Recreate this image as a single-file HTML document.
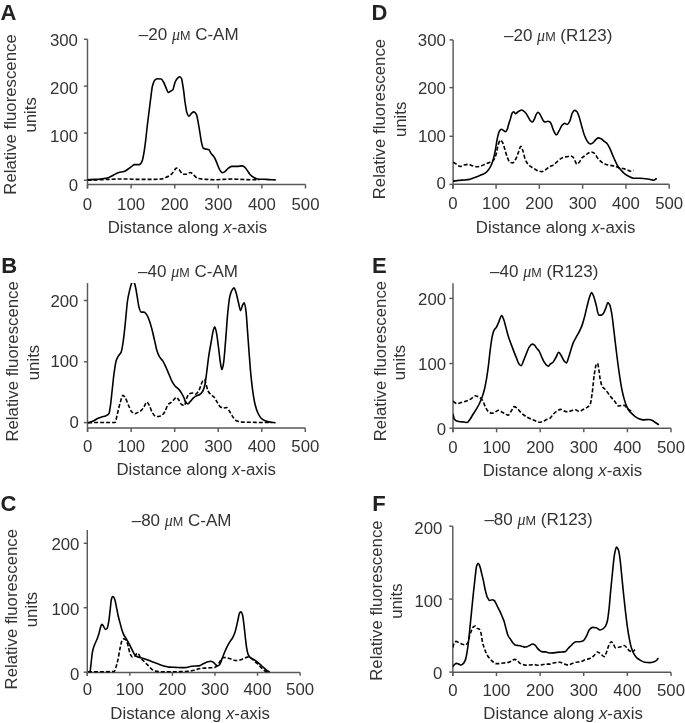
<!DOCTYPE html>
<html><head><meta charset="utf-8"><style>
html,body{margin:0;padding:0;background:#fff;}
svg{display:block;will-change:transform;filter:blur(0.35px)}
.t{font-family:"Liberation Sans",sans-serif;font-size:16.8px;fill:#333}
.L{font-family:"Liberation Sans",sans-serif;font-size:22px;font-weight:bold;fill:#222}
.mu{font-family:"Liberation Serif",serif;font-style:italic;font-size:16px}
.ax{stroke:#585858;stroke-width:1.45;fill:none}
.cs{stroke:#000;stroke-width:1.6;fill:none;stroke-linejoin:round;stroke-linecap:round}
.cd{stroke:#000;stroke-width:1.6;fill:none;stroke-dasharray:4 2}
</style></head><body>
<svg width="685" height="723" viewBox="0 0 685 723">
<g><text x="0.6" y="20.3" class="L">A</text><path class="ax" d="M87.5 39.3V188.5"/><path class="ax" d="M83.9 39.3H87.5"/><path class="ax" d="M83.9 86.1H87.5"/><path class="ax" d="M83.9 133.1H87.5"/><path class="ax" d="M83.9 180.2H87.5"/><text x="77.9" y="46.1" class="t" text-anchor="end">300</text><text x="78.1" y="94.4" class="t" text-anchor="end">200</text><text x="78.1" y="142.4" class="t" text-anchor="end">100</text><text x="78.1" y="190.5" class="t" text-anchor="end">0</text><path class="ax" d="M87.5 184.5H305.5"/><path class="ax" d="M87.5 184.5V188.5"/><text x="87.5" y="209.5" class="t" text-anchor="middle">0</text><path class="ax" d="M131.1 184.5V188.5"/><text x="131.1" y="209.5" class="t" text-anchor="middle">100</text><path class="ax" d="M174.7 184.5V188.5"/><text x="174.7" y="209.5" class="t" text-anchor="middle">200</text><path class="ax" d="M218.3 184.5V188.5"/><text x="218.3" y="209.5" class="t" text-anchor="middle">300</text><path class="ax" d="M261.9 184.5V188.5"/><text x="261.9" y="209.5" class="t" text-anchor="middle">400</text><path class="ax" d="M305.5 184.5V188.5"/><text x="305.5" y="209.5" class="t" text-anchor="middle">500</text><text x="267.2" y="232.9" class="t" text-anchor="end">Distance along <tspan font-style="italic">x</tspan>-axis</text><text transform="translate(16.3 194.7) rotate(-90)" class="t">Relative fluorescence</text><text transform="translate(36.3 114.85) rotate(-90)" class="t" text-anchor="middle">units</text><text x="138.8" y="39.9" class="t" style="font-size:17px">–20 <tspan class="mu">μ</tspan><tspan style="font-size:12.6px">M</tspan> C-AM</text><clipPath id="cpA"><rect x="87.5" y="39.3" width="300" height="200"/></clipPath><path class="cs" clip-path="url(#cpA)" d="M87.6,179.72C90.19,179.61 92.79,179.54 95.38,179.38C97.69,179.24 99.99,178.98 102.3,178.69C104.32,178.43 106.34,178.17 108.36,177.65C110.09,177.2 111.82,175.91 113.55,175.05C115.28,174.19 117.01,172.89 118.74,172.46C120.47,172.03 122.2,172.05 123.93,171.59C125.37,171.21 126.81,169.96 128.25,169C129.4,168.23 130.56,167.21 131.71,166.4C132.58,165.79 133.44,164.67 134.31,164.67C135.17,164.67 136.04,164.67 136.9,164.67C137.77,164.67 138.63,164.67 139.5,164.67C140.36,164.67 141.23,163.05 142.09,161.21C142.67,159.98 143.24,156.59 143.82,153.43C144.4,150.27 144.97,145.85 145.55,141.31C146.13,136.77 146.7,130.62 147.28,125.74C147.86,120.86 148.43,116.51 149.01,111.9C149.59,107.29 150.16,102.37 150.74,98.06C151.32,93.75 151.89,88.03 152.47,85.95C153.34,82.82 154.2,80.57 155.07,79.9C155.93,79.23 156.8,78.69 157.66,78.69C158.81,78.69 159.97,78.81 161.12,79.03C161.99,79.2 162.85,81.02 163.72,82.49C164.58,83.95 165.45,86.74 166.31,88.55C167,90 167.7,92.53 168.39,92.53C169.14,92.53 169.89,91.6 170.64,91.14C171.39,90.68 172.14,90.55 172.89,89.76C173.58,89.03 174.28,84.08 174.97,82.49C175.83,80.51 176.7,78.94 177.56,78.17C178.31,77.5 179.06,76.78 179.81,76.78C180.45,76.78 181.09,77.52 181.73,79.03C181.78,79.16 181.84,79.6 181.89,79.9C182.41,82.86 182.94,85.81 183.46,89.41C184.04,93.38 184.61,99.49 185.19,103.25C185.77,107.01 186.34,111.27 186.92,112.77C187.61,114.57 188.31,116.23 189,116.23C189.75,116.23 190.5,114.27 191.25,113.63C192.11,112.89 192.98,111.9 193.84,111.9C194.71,111.9 195.57,113.02 196.44,114.5C197.02,115.49 197.59,119.32 198.17,122.28C198.75,125.24 199.32,129.2 199.9,132.66C200.48,136.12 201.05,140.73 201.63,143.04C202.21,145.35 202.78,147.88 203.36,148.24C204.22,148.79 205.09,148.88 205.95,149.1C206.82,149.32 207.68,149.31 208.55,149.62C209.41,149.92 210.28,152.26 211.14,153.43C212.29,154.99 213.45,155.85 214.6,157.75C215.47,159.18 216.33,161.79 217.2,163.81C218.06,165.82 218.93,168.54 219.79,169.86C220.66,171.18 221.52,172.8 222.39,172.8C223.25,172.8 224.12,172.13 224.98,171.59C226.13,170.87 227.29,168.9 228.44,168.13C229.59,167.36 230.75,166.4 231.9,166.4C233.63,166.4 235.36,166.4 237.09,166.4C238.82,166.4 240.55,165.88 242.28,165.88C243.15,165.88 244.01,166.61 244.88,167.27C245.74,167.93 246.61,169.52 247.47,170.73C248.34,171.94 249.2,173.62 250.07,174.53C251.22,175.74 252.38,176.68 253.53,177.3C254.97,178.08 256.41,178.91 257.85,179.03C260.74,179.26 263.62,179.24 266.51,179.38C269.39,179.52 272.28,179.73 275.16,179.9"/><path class="cd" clip-path="url(#cpA)" d="M87.6,180.24C92.5,180.07 97.4,179.9 102.3,179.72C108.07,179.5 113.83,179.03 119.6,179.03C122.48,179.03 125.37,179.03 128.25,179.03C131.13,179.03 134.02,179.38 136.9,179.38C142.67,179.38 148.43,179.38 154.2,179.38C156.51,179.38 158.81,179.24 161.12,179.03C162.85,178.87 164.58,178.04 166.31,177.3C168.04,176.56 169.78,175.69 171.51,174.19C172.37,173.44 173.24,171.8 174.1,170.73C174.85,169.8 175.6,168.13 176.35,168.13C177.33,168.13 178.31,169.05 179.29,169.86C180.16,170.57 181.02,172.66 181.89,173.32C182.41,173.72 182.94,174.19 183.46,174.19C184.61,174.19 185.77,174.19 186.92,174.19C188.07,174.19 189.23,172.46 190.38,172.46C191.53,172.46 192.69,174.11 193.84,175.05C194.99,175.99 196.15,177.86 197.3,178.17C200.18,178.95 203.07,179.2 205.95,179.38C208.83,179.56 211.72,179.72 214.6,179.72C217.48,179.72 220.37,179.49 223.25,179.38C226.13,179.27 229.02,179.03 231.9,179.03C234.78,179.03 237.67,179.28 240.55,179.38C244.59,179.52 248.62,179.72 252.66,179.72C254.97,179.72 257.27,179.72 259.58,179.72"/></g>
<g><text x="1.2" y="272.8" class="L">B</text><path class="ax" d="M87.5 283.1V432"/><path class="ax" d="M83.9 300.5H87.5"/><path class="ax" d="M83.9 361.8H87.5"/><path class="ax" d="M83.9 422.6H87.5"/><text x="78.4" y="306.6" class="t" text-anchor="end">200</text><text x="78.4" y="367.2" class="t" text-anchor="end">100</text><text x="78.8" y="428.3" class="t" text-anchor="end">0</text><path class="ax" d="M87.5 428H305.3"/><path class="ax" d="M87.6 428V432"/><text x="87.6" y="451.5" class="t" text-anchor="middle">0</text><path class="ax" d="M131.14 428V432"/><text x="131.14" y="451.5" class="t" text-anchor="middle">100</text><path class="ax" d="M174.68 428V432"/><text x="174.68" y="451.5" class="t" text-anchor="middle">200</text><path class="ax" d="M218.22 428V432"/><text x="218.22" y="451.5" class="t" text-anchor="middle">300</text><path class="ax" d="M261.76 428V432"/><text x="261.76" y="451.5" class="t" text-anchor="middle">400</text><path class="ax" d="M305.3 428V432"/><text x="305.3" y="451.5" class="t" text-anchor="middle">500</text><text x="275.9" y="475" class="t" text-anchor="end">Distance along <tspan font-style="italic">x</tspan>-axis</text><text transform="translate(18.2 441.6) rotate(-90)" class="t">Relative fluorescence</text><text transform="translate(38.5 362.5) rotate(-90)" class="t" text-anchor="middle">units</text><text x="138.1" y="276.9" class="t" style="font-size:17px">–40 <tspan class="mu">μ</tspan><tspan style="font-size:12.6px">M</tspan> C-AM</text><clipPath id="cpB"><rect x="87.5" y="283.1" width="300" height="200"/></clipPath><path class="cs" clip-path="url(#cpB)" d="M88.11,422.74C89.84,422.19 91.57,421.81 93.3,421.08C94.68,420.5 96.07,419.25 97.45,418.59C98.83,417.93 100.22,417.36 101.6,416.93C102.98,416.5 104.37,416.4 105.75,415.89C106.79,415.5 107.82,415.16 108.86,413.82C109.34,413.19 109.83,409.62 110.31,406.56C110.86,403.06 111.42,396.93 111.97,392.03C112.66,385.89 113.36,378.35 114.05,373.36C114.74,368.39 115.43,363.13 116.12,360.91C116.81,358.68 117.51,357.62 118.2,356.35C119.24,354.46 120.27,354.17 121.31,351.58C122,349.86 122.69,344.88 123.38,340.17C124.07,335.43 124.77,328.06 125.46,321.49C126.15,314.95 126.84,305.35 127.53,300.75C128.22,296.13 128.92,293.23 129.61,290.37C130.3,287.53 130.99,284.48 131.68,283.11C132.16,282.15 132.65,281.04 133.13,281.04C133.68,281.04 134.24,282.67 134.79,284.15C135.48,286.01 136.18,290.74 136.87,294.52C137.56,298.28 138.25,304.54 138.94,306.97C139.63,309.42 140.33,312.16 141.02,312.16C142.06,312.16 143.09,312.16 144.13,312.16C145.03,312.16 145.93,313.6 146.83,314.85C147.66,316 148.49,318.22 149.32,320.46C150.15,322.69 150.97,325.68 151.8,328.76C152.7,332.12 153.6,336.37 154.5,340.17C155.4,343.97 156.3,348.95 157.2,351.58C158.03,354.01 158.86,355.87 159.69,357.18C160.73,358.82 161.76,359.35 162.8,360.91C163.84,362.47 164.87,364.9 165.91,367.14C166.95,369.38 167.98,371.98 169.02,374.4C170.06,376.82 171.1,379.79 172.14,381.66C173.18,383.52 174.21,385.09 175.25,386.22C176.29,387.35 177.32,387.83 178.36,388.92C179.4,390.01 180.43,391.43 181.47,393.07C182.37,394.49 183.27,396.06 184.17,398.26C184.51,399.09 184.85,400.85 185.19,401.37C186.09,402.75 186.98,403.86 187.88,403.86C188.71,403.86 189.54,402.25 190.37,401.37C191.41,400.27 192.45,398.71 193.49,397.84C194.53,396.97 195.56,396.29 196.6,395.77C197.64,395.25 198.67,395.13 199.71,394.52C200.75,393.91 201.78,392.76 202.82,391C203.51,389.83 204.21,387.71 204.9,384.77C205.45,382.43 206.01,377.44 206.56,373.36C207.25,368.27 207.94,361.44 208.63,356.76C209.46,351.13 210.29,346.93 211.12,342.24C211.81,338.32 212.51,333.39 213.2,330.83C213.68,329.05 214.17,326.68 214.65,326.68C215.2,326.68 215.76,329.51 216.31,331.87C217,334.81 217.69,341.24 218.38,346.39C219.07,351.57 219.77,359.02 220.46,362.99C220.94,365.76 221.43,369.63 221.91,369.63C222.46,369.63 223.02,366.18 223.57,362.99C224.26,359.01 224.95,348.39 225.64,340.17C226.33,331.91 227.03,320.07 227.72,313.2C228.41,306.36 229.1,299.61 229.79,296.6C230.48,293.57 231.18,291.56 231.87,290.37C232.56,289.19 233.25,287.88 233.94,287.88C234.63,287.88 235.33,290.47 236.02,292.45C236.85,294.82 237.68,299.52 238.51,302.82C239.2,305.56 239.89,310.71 240.58,310.71C241.27,310.71 241.97,306.08 242.66,304.9C243.21,303.96 243.77,302.82 244.32,302.82C244.87,302.82 245.43,307.09 245.98,311.12C246.46,314.64 246.95,323.37 247.43,329.79C247.98,337.14 248.54,345.43 249.09,352.61C249.71,360.66 250.33,369.2 250.95,375.44C251.64,382.42 252.34,388.44 253.03,393.07C253.72,397.68 254.41,401.72 255.1,404.48C256,408.08 256.9,410.82 257.8,412.78C258.84,415.04 259.87,416.98 260.91,417.97C262.29,419.29 263.68,420.11 265.06,420.66C266.79,421.35 268.52,421.81 270.25,422.12C271.84,422.4 273.43,422.53 275.02,422.74"/><path class="cd" clip-path="url(#cpB)" d="M88.11,422.74C90.53,422.67 92.95,422.53 95.37,422.53C98.83,422.53 102.29,422.53 105.75,422.53C108.86,422.53 111.97,422.53 115.08,422.53C115.77,422.53 116.47,417.51 117.16,414.85C118.2,410.88 119.23,405.67 120.27,402.41C121.17,399.58 122.07,395.35 122.97,395.35C123.8,395.35 124.63,396.98 125.46,398.26C126.5,399.86 127.53,403.29 128.57,405.52C129.61,407.75 130.64,410.7 131.68,411.74C132.72,412.78 133.75,413.82 134.79,413.82C135.83,413.82 136.86,412.89 137.9,412.37C138.94,411.85 139.98,411.5 141.02,410.71C142.06,409.92 143.09,408.11 144.13,406.56C145.03,405.21 145.93,401.99 146.83,401.99C147.66,401.99 148.49,404.07 149.32,405.52C150.36,407.33 151.39,411.2 152.43,412.78C153.47,414.36 154.5,416.18 155.54,416.31C156.58,416.44 157.61,416.51 158.65,416.51C159.69,416.51 160.72,415.88 161.76,415.27C162.8,414.66 163.84,413.33 164.88,411.74C165.92,410.16 166.95,405.55 167.99,404.48C169.03,403.41 170.06,403.24 171.1,402.41C172.14,401.58 173.17,400.33 174.21,399.29C174.9,398.6 175.6,397.22 176.29,397.22C176.98,397.22 177.67,398.44 178.36,399.29C179.4,400.57 180.43,403.9 181.47,404.48C182.51,405.06 183.55,405.52 184.59,405.52C185.13,405.52 185.68,400.67 186.22,399.29C187.26,396.65 188.3,394.06 189.34,393.69C190.38,393.32 191.41,393.07 192.45,393.07C193.49,393.07 194.52,394.11 195.56,394.11C196.6,394.11 197.63,392.52 198.67,391C199.36,389.98 200.06,387.54 200.75,385.81C201.44,384.08 202.13,381.29 202.82,380.62C203.37,380.08 203.93,379.59 204.48,379.59C204.96,379.59 205.45,382.22 205.93,383.73C206.62,385.9 207.32,389.72 208.01,391C209.05,392.91 210.08,393.73 211.12,394.73C212.16,395.73 213.19,396.1 214.23,397.22C215.27,398.34 216.3,400.79 217.34,402.41C218.38,404.03 219.42,406.4 220.46,406.97C221.5,407.53 222.53,408.01 223.57,408.01C224.61,408.01 225.64,407.59 226.68,407.59C227.72,407.59 228.75,410.2 229.79,411.74C230.83,413.28 231.86,415.62 232.9,416.93C234.28,418.68 235.67,420.61 237.05,421.08C238.78,421.67 240.51,422.05 242.24,422.12C245.7,422.25 249.15,422.25 252.61,422.32C256.07,422.39 259.53,422.53 262.99,422.53C265.76,422.53 268.52,422.53 271.29,422.53"/></g>
<g><text x="0.5" y="511.2" class="L">C</text><path class="ax" d="M87.3 530V675.8"/><path class="ax" d="M83.7 543.3H87.3"/><path class="ax" d="M83.7 607.7H87.3"/><path class="ax" d="M83.7 672.2H87.3"/><text x="79.4" y="550.1" class="t" text-anchor="end">200</text><text x="79.4" y="614.8" class="t" text-anchor="end">100</text><text x="79.4" y="680.3" class="t" text-anchor="end">0</text><path class="ax" d="M87.3 672.4H300.1"/><path class="ax" d="M87.3 672.4V675.8"/><text x="87.3" y="694.8" class="t" text-anchor="middle">0</text><path class="ax" d="M129.86 672.4V675.8"/><text x="129.86" y="694.8" class="t" text-anchor="middle">100</text><path class="ax" d="M172.42 672.4V675.8"/><text x="172.42" y="694.8" class="t" text-anchor="middle">200</text><path class="ax" d="M214.98 672.4V675.8"/><text x="214.98" y="694.8" class="t" text-anchor="middle">300</text><path class="ax" d="M257.54 672.4V675.8"/><text x="257.54" y="694.8" class="t" text-anchor="middle">400</text><path class="ax" d="M300.1 672.4V675.8"/><text x="300.1" y="694.8" class="t" text-anchor="middle">500</text><text x="269.8" y="718.5" class="t" text-anchor="end">Distance along <tspan font-style="italic">x</tspan>-axis</text><text transform="translate(16.9 689.4) rotate(-90)" class="t">Relative fluorescence</text><text transform="translate(36.8 609.5) rotate(-90)" class="t" text-anchor="middle">units</text><text x="131.7" y="526" class="t" style="font-size:17px">–80 <tspan class="mu">μ</tspan><tspan style="font-size:12.6px">M</tspan> C-AM</text><clipPath id="cpC"><rect x="87.3" y="530" width="300" height="200"/></clipPath><path class="cs" clip-path="url(#cpC)" d="M90.11,671.75C90.45,668.83 90.79,665.93 91.13,662.99C91.52,659.61 91.91,655.04 92.3,652.77C92.69,650.5 93.08,648.92 93.47,647.66C94.05,645.77 94.64,644.69 95.22,643.28C95.95,641.52 96.68,640.11 97.41,638.18C97.9,636.89 98.38,635.47 98.87,633.8C99.36,632.13 99.84,629.46 100.33,627.96C100.82,626.46 101.3,624.31 101.79,624.31C102.28,624.31 102.76,625.17 103.25,625.77C103.98,626.67 104.71,629.42 105.44,629.42C106.02,629.42 106.61,628.94 107.19,628.25C107.68,627.68 108.16,624.8 108.65,622.12C109.14,619.44 109.62,614.51 110.11,610.44C110.5,607.18 110.89,602.01 111.28,600.22C111.67,598.43 112.06,596.57 112.45,596.57C112.94,596.57 113.42,596.88 113.91,597.3C114.39,597.72 114.88,599.86 115.36,601.68C115.85,603.51 116.33,606.55 116.82,608.98C117.31,611.41 117.79,614.19 118.28,616.28C118.87,618.8 119.45,620.65 120.04,622.85C120.62,625.03 121.21,627.59 121.79,629.42C122.42,631.41 123.06,633.22 123.69,634.53C124.42,636.04 125.15,636.97 125.88,638.18C126.61,639.39 127.34,640.49 128.07,641.82C128.8,643.15 129.53,644.74 130.26,646.2C130.99,647.66 131.72,649.17 132.45,650.58C133.18,651.99 133.91,653.85 134.64,654.67C135.37,655.49 136.09,656.06 136.82,656.42C137.79,656.91 138.77,657.12 139.74,657.45C140.96,657.86 142.17,658.21 143.39,658.61C144.85,659.08 146.31,659.56 147.77,660.07C149.72,660.76 151.66,661.53 153.61,662.26C155.56,662.99 157.5,663.75 159.45,664.45C161.15,665.06 162.86,665.77 164.56,666.2C166.02,666.57 167.48,666.97 168.94,667.08C171.13,667.25 173.32,667.29 175.51,667.37C178.67,667.49 181.84,667.66 185,667.66C187.23,667.66 189.45,666.35 191.68,666.2C194.11,666.03 196.55,666.1 198.98,665.91C200.44,665.79 201.9,664.4 203.36,663.72C204.82,663.04 206.28,662.21 207.74,661.82C208.71,661.56 209.69,661.24 210.66,661.24C211.53,661.24 212.41,661.77 213.28,662.26C214.11,662.73 214.94,664.11 215.77,664.74C216.4,665.22 217.03,665.91 217.66,665.91C218.34,665.91 219.03,665.2 219.71,664.45C220.34,663.76 220.98,661.63 221.61,660.07C222.34,658.27 223.07,656.05 223.8,654.23C224.53,652.41 225.26,650.69 225.99,649.12C226.72,647.55 227.45,646.07 228.18,644.74C228.91,643.42 229.63,642.23 230.36,641.09C231.09,639.95 231.82,639.16 232.55,637.88C233.28,636.6 234.01,635.12 234.74,633.07C235.37,631.29 236.01,628.4 236.64,625.77C237.13,623.75 237.61,621.31 238.1,619.2C238.59,617.09 239.07,613.72 239.56,613.07C240.05,612.42 240.53,611.9 241.02,611.9C241.51,611.9 241.99,613.31 242.48,614.82C242.92,616.18 243.36,620.23 243.8,623.58C244.29,627.29 244.77,632.6 245.26,636.72C245.75,640.84 246.23,645.74 246.72,648.39C247.25,651.3 247.79,653.82 248.32,654.96C248.9,656.2 249.49,656.99 250.07,657.45C250.8,658.02 251.53,658.2 252.26,658.61C253.23,659.16 254.21,659.71 255.18,660.36C256.15,661.01 257.13,661.75 258.1,662.55C259.07,663.35 260.05,664.3 261.02,665.18C261.99,666.06 262.97,666.96 263.94,667.81C264.91,668.66 265.89,669.57 266.86,670.29C267.59,670.83 268.32,671.26 269.05,671.75"/><path class="cd" clip-path="url(#cpC)" d="M87.92,671.75C91.81,671.75 95.71,671.75 99.6,671.75C104.47,671.75 109.33,671.72 114.2,671.46C114.69,671.43 115.17,669.46 115.66,668.1C116.39,666.07 117.12,663.24 117.85,660.07C118.58,656.9 119.31,651.79 120.04,648.39C120.62,645.67 121.21,642.35 121.79,641.09C122.28,640.03 122.76,638.91 123.25,638.91C123.88,638.91 124.52,639.09 125.15,639.34C125.73,639.57 126.32,640.62 126.9,641.82C127.43,642.92 127.97,645.69 128.5,647.66C129.09,649.83 129.67,653.06 130.26,654.23C130.99,655.69 131.72,657.15 132.45,657.15C133.18,657.15 133.91,656.8 134.64,656.42C135.51,655.97 136.39,653.07 137.26,653.07C137.75,653.07 138.23,653.68 138.72,654.23C139.3,654.89 139.89,657.07 140.47,657.88C141.44,659.24 142.42,659.83 143.39,660.8C144.36,661.77 145.34,662.75 146.31,663.72C147.28,664.69 148.26,665.67 149.23,666.64C150.2,667.61 151.18,668.91 152.15,669.56C153.12,670.21 154.1,670.81 155.07,671.02C157.02,671.44 158.96,671.75 160.91,671.75C164.8,671.75 168.7,671.75 172.59,671.75C176.73,671.75 180.86,671.62 185,671.46C185.77,671.43 186.53,671.37 187.3,671.31C189.73,671.11 192.17,670.79 194.6,670.29C196.06,669.99 197.52,669.1 198.98,668.83C200.93,668.47 202.87,668.24 204.82,668.1C206.77,667.96 208.71,667.94 210.66,667.81C212.12,667.71 213.58,667.65 215.04,667.37C216.01,667.18 216.99,665.62 217.96,664.45C218.93,663.28 219.91,661.16 220.88,660.07C221.85,658.98 222.83,657.45 223.8,657.45C225.02,657.45 226.23,657.67 227.45,657.88C228.91,658.13 230.36,658.91 231.82,659.34C233.28,659.77 234.74,660.51 236.2,660.51C237.42,660.51 238.63,660.29 239.85,660.07C241.31,659.8 242.77,658.85 244.23,658.32C245.69,657.79 247.15,656.86 248.61,656.86C249.58,656.86 250.56,657.91 251.53,658.61C252.5,659.31 253.48,660.39 254.45,661.24C255.42,662.09 256.4,662.83 257.37,663.72C258.34,664.61 259.32,665.67 260.29,666.64C261.26,667.61 262.24,668.79 263.21,669.56C264.18,670.33 265.16,670.99 266.13,671.46C266.62,671.69 267.1,671.85 267.59,672.04"/></g>
<g><text x="371.4" y="20.4" class="L">D</text><path class="ax" d="M453.1 39.9V188.8"/><path class="ax" d="M449.5 39.9H453.1"/><path class="ax" d="M449.5 87.6H453.1"/><path class="ax" d="M449.5 136.3H453.1"/><path class="ax" d="M449.5 184.4H453.1"/><text x="445.8" y="46.4" class="t" text-anchor="end">300</text><text x="445.9" y="94" class="t" text-anchor="end">200</text><text x="445.9" y="141.7" class="t" text-anchor="end">100</text><text x="445.9" y="189.3" class="t" text-anchor="end">0</text><path class="ax" d="M453.1 184.3H669.2"/><path class="ax" d="M452.8 184.3V188.8"/><text x="452.8" y="209.3" class="t" text-anchor="middle">0</text><path class="ax" d="M496.08 184.3V188.8"/><text x="496.08" y="209.3" class="t" text-anchor="middle">100</text><path class="ax" d="M539.36 184.3V188.8"/><text x="539.36" y="209.3" class="t" text-anchor="middle">200</text><path class="ax" d="M582.64 184.3V188.8"/><text x="582.64" y="209.3" class="t" text-anchor="middle">300</text><path class="ax" d="M625.92 184.3V188.8"/><text x="625.92" y="209.3" class="t" text-anchor="middle">400</text><path class="ax" d="M669.2 184.3V188.8"/><text x="669.2" y="209.3" class="t" text-anchor="middle">500</text><text x="635.3" y="232.7" class="t" text-anchor="end">Distance along <tspan font-style="italic">x</tspan>-axis</text><text transform="translate(385.4 199.3) rotate(-90)" class="t">Relative fluorescence</text><text transform="translate(405.7 119.4) rotate(-90)" class="t" text-anchor="middle">units</text><text x="504" y="40.8" class="t" style="font-size:17px">–20 <tspan class="mu">μ</tspan><tspan style="font-size:12.6px">M</tspan> (R123)</text><clipPath id="cpD"><rect x="453.1" y="39.9" width="300" height="200"/></clipPath><path class="cs" clip-path="url(#cpD)" d="M453.21,181.13C455.06,180.89 456.91,180.58 458.76,180.4C460.71,180.21 462.65,180.14 464.6,179.96C466.3,179.81 468.01,179.69 469.71,179.38C470.93,179.16 472.14,178.36 473.36,177.92C474.82,177.39 476.28,177.01 477.74,176.46C479.2,175.91 480.66,175.25 482.12,174.56C483.34,173.98 484.55,173.53 485.77,172.66C486.74,171.96 487.72,170.75 488.69,169.45C489.42,168.47 490.15,167.27 490.88,165.8C491.46,164.62 492.05,163.13 492.63,161.42C493.12,159.99 493.6,158.31 494.09,156.31C494.58,154.31 495.06,151.72 495.55,149.01C495.94,146.84 496.33,143.89 496.72,141.72C497.11,139.57 497.49,137.41 497.88,135.88C498.37,133.96 498.85,131.92 499.34,131.2C500.02,130.19 500.71,129.31 501.39,129.31C502.02,129.31 502.65,129.96 503.28,130.33C504.01,130.76 504.74,131.79 505.47,131.79C506.06,131.79 506.64,130.5 507.23,129.31C507.72,128.32 508.2,125.8 508.69,124.2C509.32,122.13 509.95,120.43 510.58,118.36C511.07,116.76 511.55,114.01 512.04,113.25C512.53,112.49 513.01,111.79 513.5,111.79C514.23,111.79 514.96,113.69 515.69,113.69C516.28,113.69 516.86,112.65 517.45,112.23C518.23,111.67 519,111.12 519.78,110.77C520.46,110.46 521.14,110.04 521.82,110.04C522.45,110.04 523.09,110.62 523.72,111.06C524.45,111.57 525.18,112.34 525.91,113.25C526.64,114.16 527.37,115.68 528.1,116.9C528.83,118.12 529.56,119.85 530.29,120.55C531.02,121.25 531.75,122.01 532.48,122.01C533.11,122.01 533.75,120.3 534.38,119.09C534.96,117.98 535.55,115.72 536.13,114.71C536.76,113.62 537.4,112.23 538.03,112.23C538.61,112.23 539.2,113.22 539.78,113.98C540.41,114.81 541.05,116.46 541.68,117.63C542.36,118.89 543.04,120.85 543.72,121.28C544.35,121.68 544.99,122.01 545.62,122.01C546.35,122.01 547.08,121.28 547.81,121.28C548.54,121.28 549.27,121.57 550,122.01C550.38,122.24 550.75,123.16 551.13,123.91C552.01,125.66 552.88,129.2 553.76,130.91C554.64,132.62 555.51,134.94 556.39,134.94C557.27,134.94 558.14,132.37 559.02,130.91C560.07,129.16 561.12,126.19 562.17,125.13C562.99,124.31 563.8,123.38 564.62,123.38C565.55,123.38 566.49,124.43 567.42,124.43C568.24,124.43 569.06,122.57 569.88,120.93C570.64,119.42 571.39,114.82 572.15,113.4C572.91,111.97 573.67,110.42 574.43,110.42C575.25,110.42 576.07,110.96 576.89,111.64C577.65,112.26 578.4,114.76 579.16,116.9C580.04,119.37 580.91,123.47 581.79,126.53C582.67,129.59 583.54,133.01 584.42,135.29C585.3,137.57 586.17,139.69 587.05,140.9C588.1,142.35 589.15,144.05 590.2,144.05C591.19,144.05 592.19,143.32 593.18,142.65C594.06,142.06 594.93,140.41 595.81,139.67C596.68,138.94 597.56,137.92 598.43,137.92C599.31,137.92 600.18,138.39 601.06,138.8C602.11,139.3 603.17,140.59 604.22,141.43C605.21,142.22 606.2,142.63 607.19,143.7C608.07,144.65 608.94,146.65 609.82,148.43C610.7,150.21 611.57,152.53 612.45,154.57C613.33,156.61 614.2,158.81 615.08,160.7C615.95,162.58 616.83,164.59 617.7,165.95C618.87,167.77 620.04,169.03 621.21,170.33C622.38,171.63 623.54,172.96 624.71,173.84C626.17,174.94 627.63,175.76 629.09,176.46C630.55,177.16 632.01,178.22 633.47,178.22C635.51,178.22 637.56,178.22 639.6,178.22C641.35,178.22 643.11,178.54 644.86,178.74C646.61,178.94 648.37,179.13 650.12,179.44C651.29,179.65 652.45,180.32 653.62,180.32C654.5,180.32 655.37,179.27 656.25,178.74"/><path class="cd" clip-path="url(#cpD)" d="M453.21,162.15C454.33,162.88 455.45,163.64 456.57,164.34C457.79,165.1 459,166.53 460.22,166.53C461.44,166.53 462.65,165.36 463.87,165.07C465.33,164.72 466.79,164.34 468.25,164.34C469.71,164.34 471.17,165.4 472.63,165.8C474.09,166.2 475.55,166.82 477.01,166.82C478.47,166.82 479.93,166.24 481.39,165.8C482.85,165.36 484.31,164.52 485.77,163.91C486.99,163.41 488.2,162.98 489.42,162.45C490.64,161.92 491.85,161.66 493.07,160.69C494.04,159.92 495.02,157.63 495.99,154.85C496.72,152.77 497.45,146.69 498.18,144.64C498.91,142.6 499.63,140.26 500.36,140.26C501.09,140.26 501.82,141.36 502.55,142.45C503.28,143.54 504.01,146.71 504.74,149.01C505.47,151.31 506.2,154.46 506.93,156.31C507.9,158.77 508.88,161.72 509.85,162.15C510.82,162.58 511.8,162.88 512.77,162.88C513.74,162.88 514.72,160.86 515.69,159.23C516.57,157.76 517.44,154.86 518.32,152.66C519.15,150.58 519.97,146.39 520.8,146.39C521.53,146.39 522.26,149.19 522.99,151.2C523.72,153.21 524.45,157.47 525.18,159.23C526.15,161.58 527.13,163.26 528.1,164.34C529.32,165.69 530.53,166.43 531.75,167.26C532.97,168.09 534.18,168.8 535.4,169.45C536.62,170.1 537.83,170.93 539.05,171.2C540.02,171.42 541,171.64 541.97,171.64C542.94,171.64 543.92,170.76 544.89,170.18C545.86,169.6 546.84,168.68 547.81,167.99C548.54,167.48 549.27,166.94 550,166.53C551.25,165.82 552.51,165.51 553.76,164.73C555.22,163.82 556.68,161.84 558.14,160.7C559.6,159.56 561.06,158.24 562.52,157.72C563.98,157.2 565.44,156.99 566.9,156.67C568.07,156.42 569.23,155.97 570.4,155.97C571.28,155.97 572.15,156.52 573.03,157.19C573.73,157.73 574.43,159.96 575.13,161.22C575.72,162.27 576.3,164.2 576.89,164.2C577.65,164.2 578.4,163.24 579.16,162.45C580.04,161.53 580.91,158.99 581.79,158.07C582.96,156.84 584.12,156.32 585.29,155.44C586.46,154.56 587.63,153.34 588.8,152.81C589.68,152.41 590.55,151.94 591.43,151.94C592.6,151.94 593.76,152.77 594.93,153.69C595.81,154.38 596.68,156.96 597.56,158.07C598.73,159.55 599.89,160.69 601.06,161.57C602.52,162.68 603.98,163.64 605.44,164.2C606.9,164.76 608.36,165.19 609.82,165.43C611.28,165.67 612.74,165.68 614.2,165.95C615.66,166.22 617.12,167.31 618.58,167.7C620.04,168.09 621.5,168.22 622.96,168.58C624.42,168.94 625.88,169.49 627.34,169.98C628.51,170.37 629.67,171.21 630.84,171.21C631.72,171.21 632.59,170.62 633.47,170.33"/></g>
<g><text x="371.9" y="272.7" class="L">E</text><path class="ax" d="M453 283.2V432.3"/><path class="ax" d="M449.4 298.4H453"/><path class="ax" d="M449.4 363.5H453"/><path class="ax" d="M449.4 428.2H453"/><text x="446.1" y="305" class="t" text-anchor="end">200</text><text x="446.1" y="370" class="t" text-anchor="end">100</text><text x="446.1" y="434.5" class="t" text-anchor="end">0</text><path class="ax" d="M453 428.3H671"/><path class="ax" d="M453 428.3V432.3"/><text x="453" y="452.7" class="t" text-anchor="middle">0</text><path class="ax" d="M496.6 428.3V432.3"/><text x="496.6" y="452.7" class="t" text-anchor="middle">100</text><path class="ax" d="M540.2 428.3V432.3"/><text x="540.2" y="452.7" class="t" text-anchor="middle">200</text><path class="ax" d="M583.8 428.3V432.3"/><text x="583.8" y="452.7" class="t" text-anchor="middle">300</text><path class="ax" d="M627.4 428.3V432.3"/><text x="627.4" y="452.7" class="t" text-anchor="middle">400</text><path class="ax" d="M671 428.3V432.3"/><text x="671" y="452.7" class="t" text-anchor="middle">500</text><text x="642.2" y="475.7" class="t" text-anchor="end">Distance along <tspan font-style="italic">x</tspan>-axis</text><text transform="translate(386 441.3) rotate(-90)" class="t">Relative fluorescence</text><text transform="translate(405.4 362.5) rotate(-90)" class="t" text-anchor="middle">units</text><text x="490.1" y="277" class="t" style="font-size:17px">–40 <tspan class="mu">μ</tspan><tspan style="font-size:12.6px">M</tspan> (R123)</text><clipPath id="cpE"><rect x="453" y="283.2" width="300" height="200"/></clipPath><path class="cs" clip-path="url(#cpE)" d="M453.01,414.26C453.34,415.6 453.68,417.62 454.01,418.27C454.68,419.58 455.34,420.37 456.01,420.67C457.35,421.27 458.68,421.48 460.02,421.67C461.36,421.86 462.69,421.92 464.03,422.07C465.03,422.18 466.03,422.47 467.03,422.47C468.03,422.47 469.04,420.57 470.04,419.27C471.04,417.97 472.05,415.86 473.05,414.26C474.05,412.66 475.05,411.31 476.05,409.65C477.05,407.99 478.06,406.28 479.06,404.24C480.06,402.21 481.06,399.98 482.06,397.22C482.86,395 483.67,392.44 484.47,389.21C485.14,386.53 485.8,383.08 486.47,379.19C487.14,375.28 487.81,370.39 488.48,365.16C489.01,361 489.55,355.3 490.08,351.13C490.75,345.91 491.41,340.21 492.08,337.1C492.75,333.98 493.42,331.34 494.09,330.09C494.89,328.59 495.69,328.37 496.49,327.08C497.36,325.67 498.23,323.01 499.1,321.07C499.97,319.14 500.83,315.46 501.7,315.46C502.37,315.46 503.04,317.77 503.71,319.47C504.51,321.51 505.31,325.16 506.11,328.09C506.91,331.03 507.72,334.58 508.52,337.1C509.39,339.82 510.25,341.79 511.12,344.12C511.99,346.46 512.86,348.87 513.73,351.13C514.66,353.55 515.6,355.91 516.53,358.15C517.4,360.24 518.27,363.15 519.14,364.16C519.81,364.94 520.47,365.76 521.14,365.76C522.01,365.76 522.88,362.16 523.75,360.15C524.68,357.99 525.62,355.38 526.55,353.14C527.42,351.05 528.29,348.34 529.16,347.12C530.16,345.71 531.16,344.12 532.16,344.12C532.96,344.12 533.77,344.59 534.57,345.12C535.24,345.56 535.9,347.26 536.57,348.13C537.44,349.27 538.31,349.79 539.18,351.13C540.05,352.46 540.91,355.24 541.78,357.14C542.58,358.9 543.39,360.89 544.19,362.15C544.99,363.4 545.79,364.6 546.59,365.16C547.26,365.63 547.93,366.16 548.6,366.16C549.07,366.16 549.55,364.71 550.02,364.27C551.02,363.34 552.03,363.22 553.03,362.26C554.03,361.3 555.04,359.04 556.04,357.25C556.91,355.69 557.78,352.23 558.65,352.23C559.45,352.23 560.25,354.05 561.05,355.24C562.05,356.73 563.06,359.72 564.06,360.86C564.86,361.77 565.67,362.86 566.47,362.86C567.21,362.86 567.94,359.37 568.68,357.25C569.48,354.94 570.29,351.72 571.09,349.22C571.89,346.72 572.7,344.04 573.5,342.19C574.57,339.72 575.64,338.12 576.71,336.17C577.65,334.46 578.58,333.05 579.52,331.16C580.39,329.41 581.26,327.55 582.13,325.14C583,322.73 583.87,319.41 584.74,316.11C585.54,313.08 586.34,309.23 587.14,306.07C587.94,302.89 588.75,299.25 589.55,297.04C590.22,295.2 590.89,292.63 591.56,292.63C592.23,292.63 592.9,294.53 593.57,296.04C594.44,297.99 595.3,301.91 596.17,305.07C597.04,308.24 597.91,315.1 598.78,315.1C599.58,315.1 600.39,315.1 601.19,315.1C601.99,315.1 602.8,314.08 603.6,313.1C604.34,312.2 605.07,309.9 605.81,308.08C606.48,306.43 607.14,302.66 607.81,302.66C608.48,302.66 609.15,303.8 609.82,305.07C610.49,306.34 611.16,310.24 611.83,314.1C612.5,317.94 613.16,324.65 613.83,330.15C614.5,335.68 615.17,341.7 615.84,347.21C616.51,352.72 617.18,358.26 617.85,363.27C618.52,368.25 619.18,373 619.85,377.31C620.52,381.64 621.19,386.04 621.86,389.35C622.66,393.32 623.47,396.6 624.27,399.39C624.94,401.71 625.61,403.83 626.28,405.41C627.15,407.47 628.02,409.23 628.89,410.43C629.82,411.72 630.76,412.51 631.69,413.44C632.76,414.52 633.84,415.67 634.91,416.45C636.05,417.27 637.18,418.01 638.32,418.45C639.99,419.1 641.66,419.86 643.33,419.86C645.2,419.86 647.08,419.46 648.95,419.46C650.09,419.46 651.23,419.99 652.37,420.46C653.37,420.87 654.38,421.8 655.38,422.47C656.38,423.14 657.39,423.8 658.39,424.47"/><path class="cd" clip-path="url(#cpE)" d="M453.01,401.23C454.34,402.03 455.68,403.64 457.01,403.64C458.68,403.64 460.35,402.7 462.02,402.23C463.69,401.76 465.36,401.43 467.03,400.83C468.37,400.35 469.7,399.63 471.04,398.83C472.38,398.03 473.71,395.82 475.05,395.82C476.39,395.82 477.72,396.54 479.06,397.22C480.19,397.79 481.33,398.75 482.46,400.23C483.33,401.36 484.2,404.55 485.07,406.24C486.07,408.19 487.08,410.46 488.08,411.25C489.41,412.31 490.75,413.26 492.08,413.26C493.28,413.26 494.49,412.22 495.69,411.65C496.63,411.21 497.56,410.25 498.5,410.25C499.7,410.25 500.9,411.64 502.1,412.25C503.1,412.76 504.11,413.16 505.11,413.66C506.11,414.16 507.12,415.26 508.12,415.26C509.12,415.26 510.12,412.68 511.12,411.25C512.12,409.82 513.13,406.64 514.13,406.64C515.13,406.64 516.13,407.52 517.13,408.25C518.13,408.98 519.14,410.64 520.14,411.65C521.48,413 522.81,414.29 524.15,415.26C525.82,416.47 527.49,417.47 529.16,418.27C530.83,419.07 532.5,419.6 534.17,420.27C535.84,420.94 537.51,422.27 539.18,422.27C540.52,422.27 541.85,421.71 543.19,421.27C544.52,420.83 545.86,419.82 547.19,419.27C548.13,418.88 549.06,418.79 550,418.27C551.01,417.71 552.02,415.48 553.03,414.44C554.37,413.07 555.7,411.81 557.04,411.03C558.24,410.33 559.45,409.42 560.65,409.42C561.79,409.42 562.92,410.71 564.06,411.03C565.4,411.41 566.74,411.83 568.08,411.83C569.42,411.83 570.75,410.74 572.09,410.43C573.23,410.16 574.36,409.82 575.5,409.82C576.71,409.82 577.91,411.43 579.12,411.43C580.46,411.43 581.79,410.09 583.13,409.42C584.47,408.75 585.8,408.32 587.14,407.42C588.14,406.74 589.15,406.19 590.15,404.41C590.82,403.22 591.49,397.94 592.16,393.37C592.83,388.8 593.5,379.73 594.17,375.31C594.84,370.91 595.5,366.07 596.17,364.87C596.64,364.03 597.11,363.27 597.58,363.27C597.98,363.27 598.38,366.95 598.78,369.29C599.25,372.04 599.72,377.07 600.19,379.32C600.86,382.52 601.52,385.26 602.19,386.34C603.19,387.96 604.2,388.2 605.2,389.35C606.2,390.5 607.21,392.03 608.21,393.37C609.22,394.71 610.22,396.16 611.23,397.38C612.43,398.84 613.64,399.93 614.84,401.4C615.98,402.79 617.11,406.01 618.25,406.01C619.39,406.01 620.52,405.41 621.66,405.41C622.53,405.41 623.4,405.41 624.27,405.41C625.27,405.41 626.28,407.62 627.28,408.42C628.28,409.22 629.29,409.98 630.29,410.43C631.29,410.88 632.3,411.1 633.3,411.43"/></g>
<g><text x="372.2" y="510.9" class="L">F</text><path class="ax" d="M452.8 526.2V676"/><path class="ax" d="M449.2 526.2H452.8"/><path class="ax" d="M449.2 599.1H452.8"/><path class="ax" d="M449.2 672.1H452.8"/><text x="442.3" y="534" class="t" text-anchor="end">200</text><text x="442.4" y="606.7" class="t" text-anchor="end">100</text><text x="442.4" y="678.5" class="t" text-anchor="end">0</text><path class="ax" d="M452.8 672.3H671"/><path class="ax" d="M452.8 672.3V676"/><text x="452.8" y="695.7" class="t" text-anchor="middle">0</text><path class="ax" d="M496.44 672.3V676"/><text x="496.44" y="695.7" class="t" text-anchor="middle">100</text><path class="ax" d="M540.08 672.3V676"/><text x="540.08" y="695.7" class="t" text-anchor="middle">200</text><path class="ax" d="M583.72 672.3V676"/><text x="583.72" y="695.7" class="t" text-anchor="middle">300</text><path class="ax" d="M627.36 672.3V676"/><text x="627.36" y="695.7" class="t" text-anchor="middle">400</text><path class="ax" d="M671 672.3V676"/><text x="671" y="695.7" class="t" text-anchor="middle">500</text><text x="642.8" y="718.8" class="t" text-anchor="end">Distance along <tspan font-style="italic">x</tspan>-axis</text><text transform="translate(382.3 680.8) rotate(-90)" class="t">Relative fluorescence</text><text transform="translate(402.1 601.1) rotate(-90)" class="t" text-anchor="middle">units</text><text x="484.4" y="525" class="t" style="font-size:17px">–80 <tspan class="mu">μ</tspan><tspan style="font-size:12.6px">M</tspan> (R123)</text><clipPath id="cpF"><rect x="452.8" y="526.2" width="300" height="200"/></clipPath><path class="cs" clip-path="url(#cpF)" d="M452.86,666.52C453.39,665.88 453.92,665.07 454.45,664.61C455.09,664.06 455.72,663.34 456.36,663.34C457.15,663.34 457.95,663.87 458.74,664.13C459.54,664.4 460.33,664.93 461.13,664.93C461.92,664.93 462.72,664.14 463.51,663.34C464.2,662.65 464.89,661.31 465.58,659.36C466.11,657.86 466.64,654.59 467.17,651.41C467.7,648.23 468.23,644.03 468.76,639.49C469.29,634.95 469.82,628.89 470.35,623.59C470.88,618.29 471.41,612.99 471.94,607.69C472.47,602.39 473,596.82 473.53,591.8C474.06,586.78 474.59,581.91 475.12,577.49C475.6,573.52 476.07,567.89 476.55,566.36C477.08,564.66 477.61,563.18 478.14,563.18C478.72,563.18 479.31,564.89 479.89,566.36C480.42,567.69 480.95,570.56 481.48,572.72C482.12,575.32 482.75,577.77 483.39,580.67C484.02,583.55 484.66,587.61 485.29,590.21C485.98,593.04 486.67,596.02 487.36,597.36C488.16,598.91 488.95,600.54 489.75,600.54C490.54,600.54 491.34,599.75 492.13,599.75C492.82,599.75 493.51,600.11 494.2,600.54C494.83,600.94 495.47,602.55 496.1,603.72C496.74,604.9 497.37,606.42 498.01,607.69C498.7,609.07 499.39,610.22 500.08,611.67C500.77,613.12 501.46,614.78 502.15,616.44C502.78,617.96 503.42,619.31 504.05,621.21C504.69,623.12 505.32,626.07 505.96,628.36C506.65,630.84 507.34,634.04 508.03,635.52C508.82,637.22 509.62,637.98 510.41,639.17C511.21,640.36 512,641.72 512.8,642.67C513.59,643.62 514.39,644.85 515.18,645.06C516.24,645.34 517.3,645.35 518.36,645.53C519.42,645.71 520.48,645.92 521.54,646.17C522.6,646.42 523.66,647.12 524.72,647.12C525.52,647.12 526.31,646.87 527.11,646.65C527.9,646.43 528.7,645.91 529.49,645.53C530.55,645.02 531.61,643.94 532.67,643.94C533.47,643.94 534.26,644.51 535.06,645.06C535.85,645.61 536.65,647.33 537.44,648.24C538.24,649.15 539.03,650.07 539.83,650.62C540.62,651.17 541.42,651.89 542.21,651.89C543.27,651.89 544.33,651.89 545.39,651.89C546.18,651.89 546.98,652.34 547.77,652.53C548.51,652.71 549.26,653 550,653C550.82,653 551.65,652.96 552.47,652.92C554.02,652.85 555.58,652.51 557.13,652.36C558.69,652.21 560.24,652.13 561.8,651.98C562.92,651.87 564.04,651.84 565.16,651.61C566.22,651.4 567.27,649.34 568.33,648.25C569.57,646.97 570.82,645.58 572.06,644.52C573.31,643.45 574.55,641.72 575.8,641.72C577.04,641.72 578.29,641.72 579.53,641.72C580.77,641.72 582.02,641.33 583.26,640.78C584.32,640.32 585.37,637.98 586.43,636.12C587.43,634.37 588.42,630.66 589.42,629.59C590.48,628.46 591.53,627.35 592.59,627.35C593.84,627.35 595.08,627.51 596.33,627.72C597.57,627.93 598.82,629.96 600.06,629.96C601.12,629.96 602.17,629.31 603.23,628.65C604.04,628.15 604.85,627.23 605.66,625.85C606.28,624.8 606.9,622.95 607.52,620.25C608.02,618.07 608.52,613.51 609.02,609.06C609.58,604.08 610.14,596.3 610.7,590.39C611.32,583.85 611.94,577.61 612.56,571.73C613.18,565.82 613.81,558.29 614.43,554.93C615.11,551.24 615.8,547.09 616.48,547.09C617.16,547.09 617.85,548.55 618.53,550.27C619.09,551.68 619.65,556.28 620.21,560.53C620.77,564.78 621.33,571.74 621.89,577.33C622.51,583.56 623.14,590.1 623.76,595.99C624.38,601.88 625.01,607.51 625.63,612.79C626.25,618.05 626.87,623.47 627.49,627.72C628.11,632 628.74,635.72 629.36,638.92C629.98,642.12 630.61,645.27 631.23,647.32C632.04,649.97 632.84,652 633.65,653.48C634.71,655.43 635.77,657 636.83,657.95C638.07,659.07 639.32,659.73 640.56,660.38C641.99,661.13 643.42,662.06 644.85,662.25C646.41,662.46 647.96,662.62 649.52,662.62C651.07,662.62 652.63,662.17 654.18,661.69C654.99,661.44 655.8,661.04 656.61,660.38C657.05,660.02 657.48,659.13 657.92,658.51"/><path class="cd" clip-path="url(#cpF)" d="M452.86,647.44C453.23,646.12 453.6,644.08 453.97,643.47C454.66,642.33 455.35,641.4 456.04,641.4C456.94,641.4 457.84,642.28 458.74,642.67C459.8,643.13 460.86,643.54 461.92,643.94C462.98,644.34 464.04,645.06 465.1,645.06C466,645.06 466.91,644.01 467.81,642.67C468.5,641.66 469.18,636.78 469.87,634.72C470.4,633.13 470.93,631.91 471.46,630.75C472.15,629.24 472.84,627.24 473.53,626.77C474.17,626.34 474.8,625.98 475.44,625.98C476.07,625.98 476.71,627.98 477.34,628.36C478.03,628.77 478.72,628.68 479.41,629.16C479.94,629.53 480.47,631.26 481,633.13C481.53,635 482.06,640.49 482.59,642.67C483.28,645.51 483.97,647.12 484.66,649.03C485.4,651.07 486.14,653.25 486.88,654.59C487.84,656.32 488.79,657.46 489.75,658.57C490.81,659.81 491.87,660.95 492.93,661.75C493.99,662.54 495.04,663.66 496.1,663.66C497.16,663.66 498.22,663.66 499.28,663.66C500.61,663.66 501.93,663.2 503.26,663.02C504.58,662.84 505.91,662.77 507.23,662.54C508.19,662.38 509.14,662.14 510.1,661.75C510.84,661.45 511.58,660.49 512.32,660.16C513.17,659.79 514.01,659.36 514.86,659.36C515.76,659.36 516.67,660.28 517.57,660.95C518.36,661.54 519.16,662.88 519.95,663.34C521.01,663.96 522.07,664.33 523.13,664.61C524.19,664.89 525.25,665.25 526.31,665.25C527.64,665.25 528.96,665.04 530.29,664.93C531.61,664.82 532.94,664.61 534.26,664.61C535.59,664.61 536.91,665.25 538.24,665.25C539.3,665.25 540.35,665.07 541.41,664.93C542.74,664.75 544.06,664.13 545.39,664.13C546.71,664.13 548.04,664.13 549.36,664.13C551.02,664.13 552.67,663.05 554.33,662.81C556.2,662.54 558.06,662.25 559.93,662.25C561.17,662.25 562.42,663.13 563.66,663.55C565.22,664.07 566.77,665.05 568.33,665.05C569.57,665.05 570.82,664.01 572.06,663.55C573.31,663.09 574.55,662.48 575.8,662.25C577.35,661.97 578.91,661.98 580.46,661.69C582.02,661.4 583.57,660.33 585.13,659.82C586.68,659.31 588.24,659.13 589.79,658.51C591.16,657.96 592.53,656.82 593.9,655.71C595.14,654.7 596.39,651.98 597.63,651.98C598.75,651.98 599.87,653.44 600.99,654.22C602.11,655 603.23,656.65 604.35,656.65C605.1,656.65 605.84,653.8 606.59,651.98C607.34,650.16 608.08,646.96 608.83,645.45C609.64,643.81 610.45,641.72 611.26,641.72C611.88,641.72 612.5,642.8 613.12,643.58C613.93,644.6 614.74,647.88 615.55,647.88C616.61,647.88 617.66,647.55 618.72,647.32C619.78,647.09 620.83,646.74 621.89,646.38C622.7,646.11 623.51,645.45 624.32,645.45C625.13,645.45 625.94,647.07 626.75,647.88C627.81,648.94 628.86,650.7 629.92,651.05C630.85,651.36 631.79,651.61 632.72,651.61C633.47,651.61 634.21,650.36 634.96,649.74"/></g>
</svg></body></html>
